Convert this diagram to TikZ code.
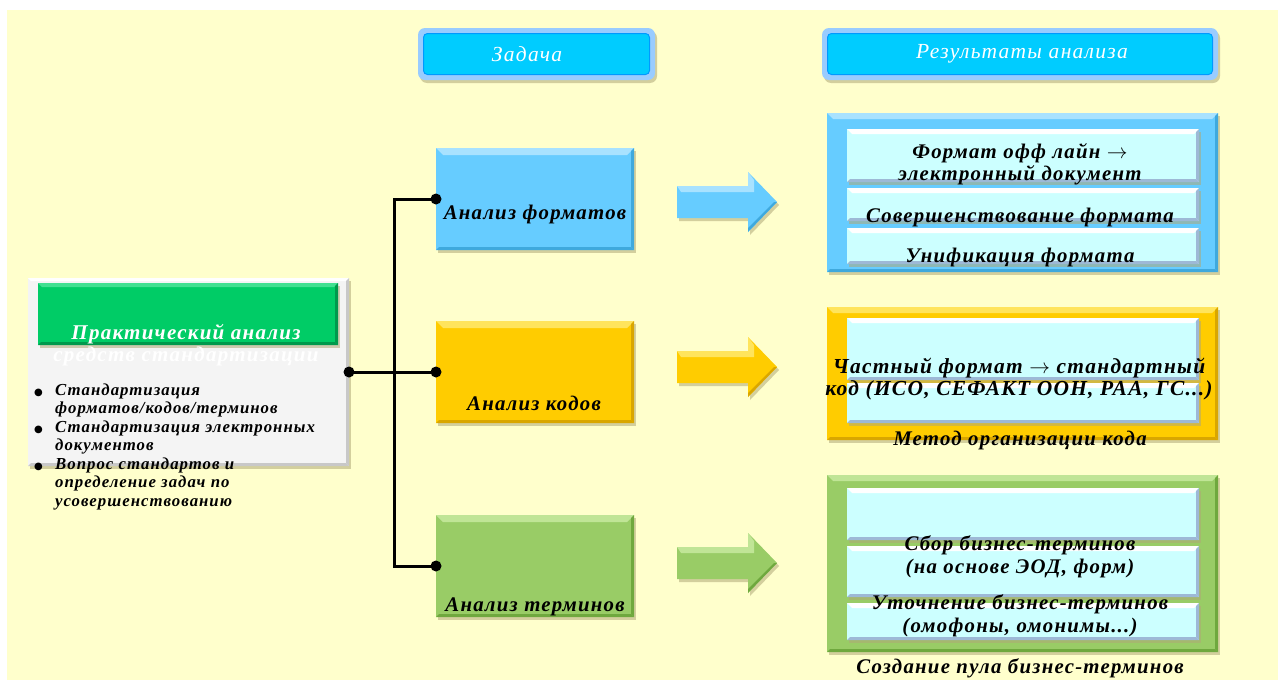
\documentclass[tikz,border=0pt]{standalone}
\usepackage{fontspec}
\setmainfont{Liberation Serif}
\newfontfamily\bfam[LetterSpace=6]{Liberation Serif}
\newfontfamily\dejavu{DejaVu Sans}
\usetikzlibrary{shadows}
\definecolor{bgy}{HTML}{FFFFCC}
\definecolor{cblue}{HTML}{66CCFF}
\definecolor{cblueL}{HTML}{A8E2FF}
\definecolor{cblueD}{HTML}{3FA9DD}
\definecolor{cyel}{HTML}{FFCC00}
\definecolor{cyelL}{HTML}{FFE45C}
\definecolor{cyelD}{HTML}{D9A600}
\definecolor{cgrn}{HTML}{99CC66}
\definecolor{cgrnL}{HTML}{C0E596}
\definecolor{cgrnD}{HTML}{6FA83E}
\definecolor{csub}{HTML}{CCFFFF}
\definecolor{csubD}{HTML}{9DB9D6}
\definecolor{chead}{HTML}{00CCFF}
\definecolor{cheadO}{HTML}{99CCFF}
\definecolor{cheadB}{HTML}{0099FF}
\definecolor{cgreen}{HTML}{00CC66}
\definecolor{cgreenL}{HTML}{40E090}
\definecolor{cgreenD}{HTML}{00994C}
\definecolor{cleft}{HTML}{F4F4F4}
\definecolor{cleftD}{HTML}{C8C8C8}
\definecolor{cshadow}{HTML}{B0A878}
\tikzset{
  box/.style={inner sep=0pt, outer sep=0pt, draw=none},
  shad/.style={drop shadow={shadow xshift=2pt, shadow yshift=-3pt, fill=cshadow, opacity=0.55}},
  bev/.style n args={4}{fill=#1, path picture={
    \fill[#2] (path picture bounding box.north west) -- (path picture bounding box.north east)
      -- ([shift={(-#4,-#4)}]path picture bounding box.north east)
      -- ([shift={(#4,-#4)}]path picture bounding box.north west) -- cycle;
    \fill[#3] (path picture bounding box.north east) -- (path picture bounding box.south east)
      -- ([shift={(-3pt,3pt)}]path picture bounding box.south east)
      -- ([shift={(-3pt,-3pt)}]path picture bounding box.north east) -- cycle;
    \fill[#3] (path picture bounding box.south west) -- (path picture bounding box.south east)
      -- ([shift={(-3pt,3pt)}]path picture bounding box.south east)
      -- ([shift={(3pt,3pt)}]path picture bounding box.south west) -- cycle;
  }},
  txt/.style={inner sep=0pt, align=center, font=\bfam\bfseries\itshape\fontsize{20.8}{22.5}\selectfont},
  htxt/.style={inner sep=0pt, text=white, font=\bfam\itshape\fontsize{21.5}{24}\selectfont},
  conn/.style={line width=3pt, black},
}
\newcommand\blkarrow[5]{%
  \fill[#4, shad] (#1,#2-16) -- (#1+71,#2-16) -- (#1+71,#2-30) -- (#1+100,#2)
     -- (#1+71,#2+30) -- (#1+71,#2+16) -- (#1,#2+16) -- cycle;
  \fill[#5] (#1,#2-16) -- (#1+71,#2-16) -- (#1+71,#2-30) -- (#1+77,#2-22) -- (#1+77,#2-10) -- (#1+4,#2-10) -- cycle;
  \fill[#3] (#1+100,#2) -- (#1+71,#2+30) -- (#1+71,#2+26) -- (#1+97,#2) -- cycle;
}
\newcommand\bul{{\dejavu\fontsize{10}{18.5}\selectfont ●}}
\begin{document}
\begin{tikzpicture}[x=1pt,y=-1pt]
\useasboundingbox (0,0) rectangle (1278,680);
\clip (0,0) rectangle (1278,680);
\fill[white] (0,0) rectangle (1278,680);
\fill[bgy] (7,10) rectangle (1278,680);

% headers
\node[box, rounded corners=7pt, fill=cheadO, shad, minimum width=237pt, minimum height=52pt] (hdrTaskO) at (536.5,54) {};
\node[box, rounded corners=4pt, fill=chead, draw=cheadB, line width=1pt, minimum width=226pt, minimum height=41pt] (hdrTask) at (536.5,54) {};
\node[htxt] (hdrTaskT) at (527,54) {Задача};
\node[box, rounded corners=7pt, fill=cheadO, shad, minimum width=396pt, minimum height=52pt] (hdrResO) at (1020,54) {};
\node[box, rounded corners=4pt, fill=chead, draw=cheadB, line width=1pt, minimum width=385pt, minimum height=41pt] (hdrRes) at (1020,54) {};
\node[htxt] (hdrResT) at (1022,54) {Результаты анализа};

% left box
\node[box, shad, bev={cleft}{white}{cleftD}{3pt}, minimum width=321pt, minimum height=188pt] (leftBox) at (188.5,372) {};
\node[box, shad, bev={cgreen}{cgreenL}{cgreenD}{4pt}, minimum width=300pt, minimum height=62pt] (leftHead) at (188,314) {};
\node[txt, text=white, font=\bfam\bfseries\itshape\fontsize{21}{22}\selectfont] (leftTitle) at (186,345) {Практический анализ\\средств стандартизации};
\node[anchor=north west, inner sep=0pt, font=\bfam\bfseries\itshape\fontsize{16.8}{18.5}\selectfont] (bullets) at (34,382)
 {\begin{tabular}{@{}p{21pt}@{}l@{}}
  \bul & Стандартизация\\
   & форматов/кодов/терминов\\
  \bul & Стандартизация электронных\\
   & документов\\
  \bul & Вопрос стандартов и\\
   & определение задач по\\
   & усовершенствованию
 \end{tabular}};

% task boxes
\node[box, shad, bev={cblue}{cblueL}{cblueD}{7pt}, minimum width=198pt, minimum height=102pt] (fmt) at (535,199) {};
\node[txt] (fmtT) at (535,214) {Анализ форматов};
\node[box, shad, bev={cyel}{cyelL}{cyelD}{7pt}, minimum width=198pt, minimum height=102pt] (kod) at (535,372) {};
\node[txt] (kodT) at (534,403) {Анализ кодов};
\node[box, shad, bev={cgrn}{cgrnL}{cgrnD}{7pt}, minimum width=198pt, minimum height=102pt] (term) at (535,566) {};
\node[txt] (termT) at (535,607) {Анализ терминов};

% connectors
\draw[conn] (leftBox.east) -- (kod.west);
\draw[conn] (fmt.west) -- ++(-42,0) |- (term.west);
\foreach \n in {leftBox.east, fmt.west, kod.west, term.west} \fill (\n) circle (5.5pt);

% arrows
\blkarrow{677}{202}{cblueD}{cblue}{cblueL}
\blkarrow{677}{367}{cyelD}{cyel}{cyelL}
\blkarrow{677}{563}{cgrnD}{cgrn}{cgrnL}

% result: formats
\node[box, shad, bev={cblue}{cblueL}{cblueD}{6pt}, minimum width=391pt, minimum height=159pt] (resFmt) at (1022.5,192.5) {};
\node[box, shad, bev={csub}{white}{csubD}{5pt}, minimum width=352pt, minimum height=53pt] (sf1) at (1023,155.5) {};
\node[box, shad, bev={csub}{white}{csubD}{5pt}, minimum width=352pt, minimum height=33pt] (sf2) at (1023,204.5) {};
\node[box, shad, bev={csub}{white}{csubD}{5pt}, minimum width=352pt, minimum height=36pt] (sf3) at (1023,246) {};
\node[txt] (sf1T) at (1020,164) {Формат офф лайн $\rightarrow$\\электронный документ};
\node[txt] (sf2T) at (1020,217) {Совершенствование формата};
\node[txt] (sf3T) at (1020,257) {Унификация формата};

% result: codes
\node[box, shad, bev={cyel}{cyelL}{cyelD}{6pt}, minimum width=391pt, minimum height=133pt] (resKod) at (1022.5,373.5) {};
\node[box, shad, bev={csub}{white}{csubD}{5pt}, minimum width=352pt, minimum height=62pt] (sk1) at (1023,349) {};
\node[box, shad, bev={csub}{white}{csubD}{5pt}, minimum width=352pt, minimum height=40pt] (sk2) at (1023,403) {};
\node[txt, font=\bfam\bfseries\itshape\fontsize{21.4}{22.5}\selectfont] (sk1T) at (1019,379) {Частный формат $\rightarrow$ стандартный\\код (ИСО, СЕФАКТ ООН, РАА, ГС...)};
\node[txt] (skT) at (1020,440) {Метод организации кода};

% result: terms
\node[box, shad, bev={cgrn}{cgrnL}{cgrnD}{6pt}, minimum width=391pt, minimum height=177pt] (resTerm) at (1022.5,563.5) {};
\node[box, shad, bev={csub}{white}{csubD}{5pt}, minimum width=352pt, minimum height=52pt] (st1) at (1023,514) {};
\node[box, shad, bev={csub}{white}{csubD}{5pt}, minimum width=352pt, minimum height=51pt] (st2) at (1023,571.5) {};
\node[box, shad, bev={csub}{white}{csubD}{5pt}, minimum width=352pt, minimum height=37pt] (st3) at (1023,621.5) {};
\node[txt] (st2T) at (1020,557) {Сбор бизнес-терминов\\(на основе ЭОД, форм)};
\node[txt] (st3T) at (1020,616) {Уточнение бизнес-терминов\\(омофоны, омонимы...)};
\node[txt] (stT) at (1020,668) {Создание пула бизнес-терминов};
\end{tikzpicture}
\end{document}
